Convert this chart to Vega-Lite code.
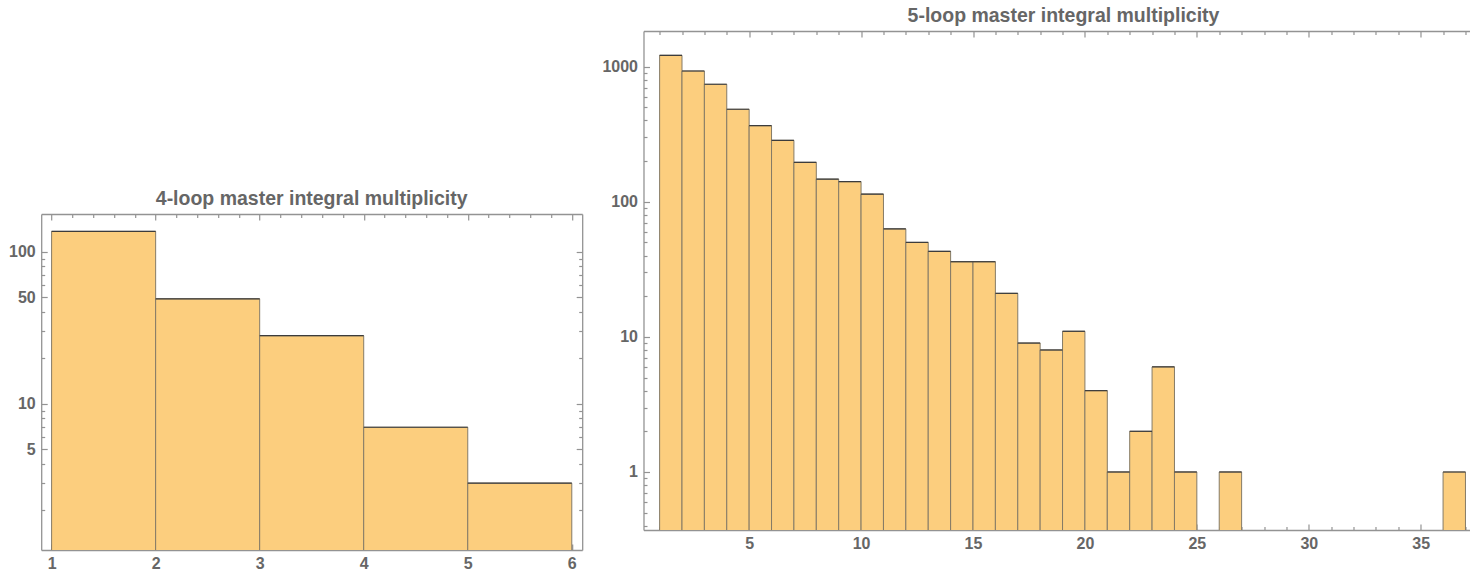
{
  "$schema": "https://vega.github.io/schema/vega-lite/v6.json",
  "padding": {"left": 8.2, "top": 5, "right": 0, "bottom": 0},
  "background": "white",
  "config": {
    "view": {"stroke": null},
    "axis": {
      "grid": false,
      "title": null,
      "domainColor": "#939393",
      "domainWidth": 1.3,
      "tickColor": "#939393",
      "tickWidth": 1.2,
      "labelFont": "Liberation Sans",
      "labelFontWeight": "bold",
      "labelFontSize": 16,
      "labelColor": "#666666",
      "labelPadding": 12,
      "labelFlush": false,
      "labelOverlap": false,
      "labelBound": false
    },
    "title": {"font": "Liberation Sans", "fontSize": 19.5, "fontWeight": "bold", "color": "#666666", "offset": 0}
  },
  "datasets": {
    "four": [
      {"lo": 1, "hi": 2, "count": 136},
      {"lo": 2, "hi": 3, "count": 49},
      {"lo": 3, "hi": 4, "count": 28},
      {"lo": 4, "hi": 5, "count": 7},
      {"lo": 5, "hi": 6, "count": 3}
    ],
    "five": [
      {"lo": 1, "hi": 2, "count": 1214},
      {"lo": 2, "hi": 3, "count": 929},
      {"lo": 3, "hi": 4, "count": 741},
      {"lo": 4, "hi": 5, "count": 484},
      {"lo": 5, "hi": 6, "count": 366},
      {"lo": 6, "hi": 7, "count": 285},
      {"lo": 7, "hi": 8, "count": 196},
      {"lo": 8, "hi": 9, "count": 147},
      {"lo": 9, "hi": 10, "count": 141},
      {"lo": 10, "hi": 11, "count": 114},
      {"lo": 11, "hi": 12, "count": 63},
      {"lo": 12, "hi": 13, "count": 50},
      {"lo": 13, "hi": 14, "count": 43},
      {"lo": 14, "hi": 15, "count": 36},
      {"lo": 15, "hi": 16, "count": 36},
      {"lo": 16, "hi": 17, "count": 21},
      {"lo": 17, "hi": 18, "count": 9},
      {"lo": 18, "hi": 19, "count": 8},
      {"lo": 19, "hi": 20, "count": 11},
      {"lo": 20, "hi": 21, "count": 4},
      {"lo": 21, "hi": 22, "count": 1},
      {"lo": 22, "hi": 23, "count": 2},
      {"lo": 23, "hi": 24, "count": 6},
      {"lo": 24, "hi": 25, "count": 1},
      {"lo": 26, "hi": 27, "count": 1},
      {"lo": 36, "hi": 37, "count": 1}
    ]
  },
  "hconcat": [
    {
      "spacing": 0,
      "vconcat": [
        {
          "width": 1,
          "height": 157,
          "data": {"values": []},
          "mark": {"type": "point", "opacity": 0},
          "encoding": {}
        },
        {
          "width": 541,
          "height": 336,
          "title": {"text": "4-loop master integral multiplicity"},
          "data": {"name": "four"},
          "resolve": {"axis": {"x": "independent", "y": "independent"}},
          "layer": [
            {
              "mark": {"type": "bar", "fill": "#FCCE7E", "stroke": "#857a66", "strokeWidth": 1, "clip": true},
              "encoding": {
                "x": {"field": "lo", "type": "quantitative",
                  "scale": {"domain": [0.9, 6.1], "nice": false, "zero": false},
                  "axis": {"orient": "bottom", "values": [1,1.2,1.4,1.6,1.8,2,2.2,2.4,2.6,2.8,3,3.2,3.4,3.6,3.8,4,4.2,4.4,4.6,4.8,5,5.2,5.4,5.6,5.8,6],
                    "labelExpr": "datum.value % 1 == 0 ? format(datum.value, 'd') : ''",
                    "tickSize": {"condition": {"test": "datum.value % 1 == 0", "value": -6}, "value": -3.5}}},
                "x2": {"field": "hi"},
                "y": {"field": "count", "type": "quantitative",
                  "scale": {"type": "log", "domain": [1.09, 177], "nice": false},
                  "axis": {"orient": "left", "values": [2,3,4,5,6,7,8,9,10,20,30,40,50,60,70,80,90,100],
                    "labelExpr": "indexof([5,10,50,100], datum.value) >= 0 ? format(datum.value, 'd') : ''",
                    "tickSize": {"condition": {"test": "indexof([5,10,50,100], datum.value) >= 0", "value": -6}, "value": -3.5}}},
                "y2": {"datum": 0.01}
              }
            },
            {
              "mark": {"type": "rule", "stroke": "#3c3c3c", "strokeWidth": 1.2, "clip": true},
              "encoding": {
                "x": {"field": "lo", "type": "quantitative",
                  "axis": {"orient": "top", "values": [1,1.2,1.4,1.6,1.8,2,2.2,2.4,2.6,2.8,3,3.2,3.4,3.6,3.8,4,4.2,4.4,4.6,4.8,5,5.2,5.4,5.6,5.8,6],
                    "labels": false,
                    "tickSize": {"condition": {"test": "datum.value % 1 == 0", "value": -6}, "value": -3.5}}},
                "x2": {"field": "hi"},
                "y": {"field": "count", "type": "quantitative",
                  "axis": {"orient": "right", "values": [2,3,4,5,6,7,8,9,10,20,30,40,50,60,70,80,90,100],
                    "labels": false,
                    "tickSize": {"condition": {"test": "indexof([5,10,50,100], datum.value) >= 0", "value": -6}, "value": -3.5}}}
              }
            }
          ]
        }
      ]
    },
    {
      "width": 826,
      "height": 499,
      "title": {"text": "5-loop master integral multiplicity", "dx": 7},
      "data": {"name": "five"},
      "resolve": {"axis": {"x": "independent", "y": "independent"}},
      "layer": [
        {
          "mark": {"type": "bar", "fill": "#FCCE7E", "stroke": "#857a66", "strokeWidth": 1, "clip": true},
          "encoding": {
            "x": {"field": "lo", "type": "quantitative",
              "scale": {"domain": [0.28, 37.18], "nice": false, "zero": false},
              "axis": {"orient": "bottom", "values": [1,2,3,4,5,6,7,8,9,10,11,12,13,14,15,16,17,18,19,20,21,22,23,24,25,26,27,28,29,30,31,32,33,34,35,36,37],
                "labelExpr": "datum.value % 5 == 0 ? format(datum.value, 'd') : ''",
                "tickSize": {"condition": {"test": "datum.value % 5 == 0", "value": -6}, "value": -3.5}}},
            "x2": {"field": "hi"},
            "y": {"field": "count", "type": "quantitative",
              "scale": {"type": "log", "domain": [0.372, 1837], "nice": false},
              "axis": {"orient": "left", "values": [0.4,0.5,0.6,0.7,0.8,0.9,1,2,3,4,5,6,7,8,9,10,20,30,40,50,60,70,80,90,100,200,300,400,500,600,700,800,900,1000],
                "labelExpr": "indexof([1,10,100,1000], datum.value) >= 0 ? format(datum.value, 'd') : ''",
                "tickSize": {"condition": {"test": "indexof([1,10,100,1000], datum.value) >= 0", "value": -6}, "value": -3.5}}},
            "y2": {"datum": 0.01}
          }
        },
        {
          "mark": {"type": "rule", "stroke": "#3c3c3c", "strokeWidth": 1.2, "clip": true},
          "encoding": {
            "x": {"field": "lo", "type": "quantitative",
              "axis": {"orient": "top", "values": [1,2,3,4,5,6,7,8,9,10,11,12,13,14,15,16,17,18,19,20,21,22,23,24,25,26,27,28,29,30,31,32,33,34,35,36,37],
                "labels": false,
                "tickSize": {"condition": {"test": "datum.value % 5 == 0", "value": -6}, "value": -3.5}}},
            "x2": {"field": "hi"},
            "y": {"field": "count", "type": "quantitative", "axis": null}
          }
        }
      ]
    }
  ],
  "spacing": 18.3
}
